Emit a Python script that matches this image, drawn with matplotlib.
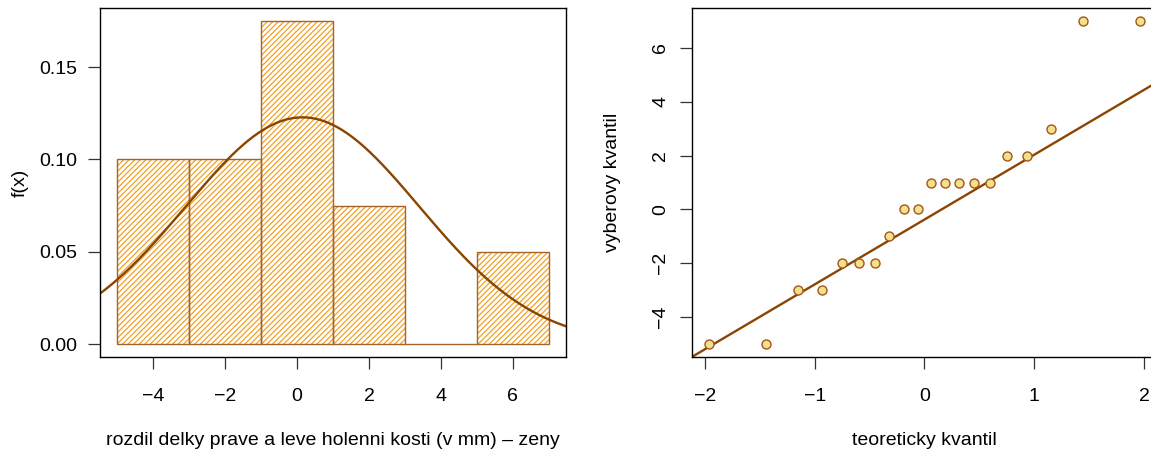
import math
from statistics import NormalDist
import numpy as np
import matplotlib
matplotlib.use("Agg")
import matplotlib.pyplot as plt

plt.rcParams['font.family'] = ['Liberation Sans', 'DejaVu Sans']
plt.rcParams['hatch.linewidth'] = 0.9

# differences right - left tibia length (mm), women
rozdil = [-5, -5, -3, -3, -2, -2, -2, -1, 0, 0, 1, 1, 1, 1, 1, 2, 2, 3, 7, 7]
bin_edges = [-5, -3, -1, 1, 3, 5, 7]
x_ticks_hist = [-4, -2, 0, 2, 4, 6]
y_ticks_hist = [0.00, 0.05, 0.10, 0.15]
x_ticks_qq = [-2, -1, 0, 1, 2]
y_ticks_qq = [-4, -2, 0, 2, 4, 6]

hatch_col = '#F2A122'
edge_col = '#A3642A'
line_col = '#8B4500'
pt_face = '#F2E08A'
pt_edge = '#A5551C'

data = np.array(rozdil, dtype=float)
n = len(data)
mu = data.mean()
sd = data.std(ddof=1)


def lab(t):
    return '\u2212' + str(-t) if t < 0 else str(t)


fig = plt.figure(figsize=(11.51, 4.51), dpi=100)

# ---- histogram with normal density (right-closed bins like R)
ax1 = fig.add_axes([0.0869, 0.2084, 0.4049, 0.7738])
edges = np.array(bin_edges, dtype=float)
counts = np.array([np.sum((data > a) & (data <= b)) if i > 0 else np.sum((data >= a) & (data <= b))
                   for i, (a, b) in enumerate(zip(edges[:-1], edges[1:]))])
widths = np.diff(edges)
dens = counts / (n * widths)
ax1.bar(edges[:-1], dens, width=widths, align='edge',
        facecolor='white', edgecolor=hatch_col, hatch='//////', linewidth=0)
ax1.bar(edges[:-1], dens, width=widths, align='edge',
        facecolor='none', edgecolor=edge_col, linewidth=1.0)
xs = np.linspace(-5.48, 7.48, 400)
pdf = np.exp(-0.5 * ((xs - mu) / sd) ** 2) / (sd * math.sqrt(2 * math.pi))
ax1.plot(xs, pdf, color=line_col, lw=1.7)
ax1.set_xlim(-5.48, 7.48)
ax1.set_ylim(-0.007, 0.182)
ax1.set_xticks(x_ticks_hist)
ax1.set_xticklabels([lab(t) for t in x_ticks_hist])
ax1.set_yticks(y_ticks_hist)
ax1.set_yticklabels(['%.2f' % t for t in y_ticks_hist])
ax1.set_xlabel('rozdil delky prave a leve holenni kosti (v mm) \u2013 zeny', fontsize=14)
ax1.set_ylabel('f(x)', fontsize=14)

# ---- normal QQ plot
ax2 = fig.add_axes([0.6012, 0.2084, 0.404, 0.7738])
srt = np.sort(data)
p = (np.arange(1, n + 1) - 0.5) / n
nd = NormalDist()
theo = np.array([nd.inv_cdf(v) for v in p])
q1, q3 = np.quantile(data, [0.25, 0.75])
t1, t3 = nd.inv_cdf(0.25), nd.inv_cdf(0.75)
slope = (q3 - q1) / (t3 - t1)
icpt = q1 - slope * t1
lx = np.array([-2.2, 2.2])
ax2.plot(lx, icpt + slope * lx, color=line_col, lw=1.7, zorder=2)
ax2.scatter(theo, srt, s=42, facecolor=pt_face, edgecolor=pt_edge,
            linewidth=1.0, zorder=3)
ax2.set_xlim(-2.117, 2.117)
ax2.set_ylim(-5.48, 7.48)
ax2.set_xticks(x_ticks_qq)
ax2.set_xticklabels([lab(t) for t in x_ticks_qq])
ax2.set_yticks(y_ticks_qq)
ax2.set_yticklabels([lab(t) for t in y_ticks_qq], rotation=90, va='center')
ax2.set_xlabel('teoreticky kvantil', fontsize=14)
ax2.set_ylabel('vyberovy kvantil', fontsize=14)

for ax in (ax1, ax2):
    ax.tick_params(labelsize=14, length=8.5, width=0.9, pad=8, color='#333333')
    ax.tick_params(axis='x', pad=13.5)
    ax.xaxis.set_label_coords(0.5, -0.238)
    ax.xaxis.label.set_va('center')
    ax.yaxis.set_label_coords(-0.172, 0.5)
    ax.yaxis.label.set_va('center')
    for s in ax.spines.values():
        s.set_linewidth(1.0)

fig.savefig('out.png', dpi=100)
